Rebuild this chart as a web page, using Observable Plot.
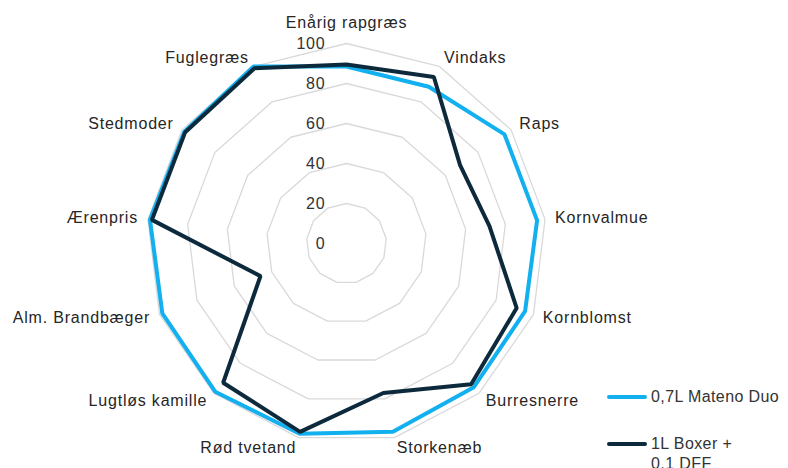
<!DOCTYPE html>
<html><head><meta charset="utf-8">
<script src="https://cdn.jsdelivr.net/npm/d3@7"></script>
<script src="https://cdn.jsdelivr.net/npm/@observablehq/plot@0.6"></script>
<style>
body{margin:0;background:#fff;font-family:"Liberation Sans",Arial,sans-serif;}
#wrap{position:relative;width:788px;height:468px;overflow:hidden;}
.item{position:absolute;left:607px;display:flex;align-items:flex-start;font-size:16px;line-height:20px;color:#333;letter-spacing:0.4px;}
.sw{width:40px;height:4px;margin-top:8px;margin-right:4px;border-radius:2px;flex:none;}
</style></head><body><div id="wrap"></div>
<script>
const categories = ["Enårig rapgræs","Vindaks","Raps","Kornvalmue","Kornblomst","Burresnerre","Storkenæb","Rød tvetand","Lugtløs kamille","Alm. Brandbæger","Ærenpris","Stedmoder","Fuglegræs"];
const matenoDuo = [88.5, 88.5, 96, 96, 95.5, 96, 97, 98, 99, 98.5, 99, 98.5, 100];
const boxerDff  = [89.5, 94, 69, 72, 91, 94, 77, 97, 93, 46, 98, 98, 99];
const seriesNames = ["0,7L Mateno Duo", "1L Boxer +\n0,1 DFF"];
const seriesColors = ["#12b0ee", "#0d2a3c"];
const ringTicks = [20, 40, 60, 80, 100];
const tickLabels = [0, 20, 40, 60, 80, 100];

const W = 788, H = 468, cx = 346, cy = 243, k = 2;
const n = categories.length;
const ang = i => 2 * Math.PI * i / n;
const px = (i, v) => v * Math.sin(ang(i));
const py = (i, v) => v * Math.cos(ang(i));

const rings = ringTicks.flatMap(t => categories.map((c, i) => ({t, x: px(i, t), y: py(i, t)})));
const series = [matenoDuo, boxerDff].flatMap((vals, s) => vals.map((v, i) => ({s: seriesNames[s], x: px(i, v), y: py(i, v)})));
const labels = categories.map((c, i) => {
  const s = Math.sin(ang(i));
  return {c, x: px(i, 105), y: py(i, 105), anchor: Math.abs(s) < 0.01 ? "middle" : (s > 0 ? "start" : "end")};
});

const labelMark = (anchor, extra = {}) => Plot.text(labels.filter(d => d.anchor === anchor), {
  x: "x", y: "y", text: "c", textAnchor: anchor, fill: "#262626", fontSize: 16, ...extra
});

const plot = Plot.plot({
  width: W, height: H,
  marginTop: 0, marginRight: 0, marginBottom: 0, marginLeft: 0,
  x: {domain: [-cx / k, (W - cx) / k], axis: null},
  y: {domain: [-(H - cy) / k, cy / k], axis: null},
  color: {domain: seriesNames, range: seriesColors},
  style: {fontFamily: '"Liberation Sans", Arial, sans-serif', fontSize: "16px", background: "#fff"},
  marks: [
    Plot.line(rings, {x: "x", y: "y", z: "t", curve: "linear-closed", stroke: "#d9d9d9", strokeWidth: 1.3}),
    Plot.line(series, {x: "x", y: "y", z: "s", stroke: "s", curve: "linear-closed", strokeWidth: 4, strokeLinejoin: "miter"}),
    Plot.text(tickLabels, {x: 0, y: d => d, text: d => String(d), textAnchor: "end", dx: -21, fill: "#333", fontSize: 16}),
    labelMark("start"),
    labelMark("end"),
    labelMark("middle", {dy: -11})
  ]
});
plot.querySelectorAll("text").forEach(t => t.style.letterSpacing = "0.8px");
const wrap = document.getElementById("wrap");
wrap.appendChild(plot);

const tops = [387, 434];
seriesNames.forEach((name, i) => {
  const it = document.createElement("div");
  it.className = "item";
  it.style.top = tops[i] + "px";
  const sw = document.createElement("span");
  sw.className = "sw";
  sw.style.background = seriesColors[i];
  const tx = document.createElement("span");
  tx.innerHTML = name.replace("\n", "<br>");
  it.appendChild(sw); it.appendChild(tx);
  wrap.appendChild(it);
});
</script>
</body></html>
